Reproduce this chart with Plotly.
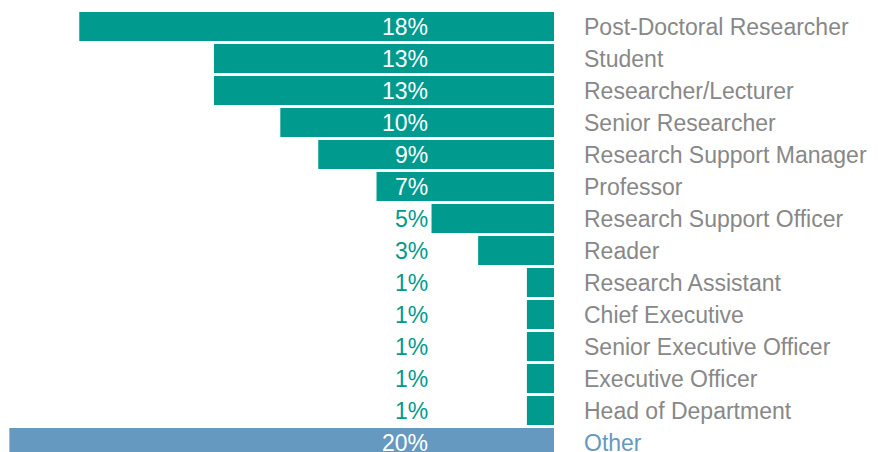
import plotly.graph_objects as go

# Roles and share of respondents (%)
roles = ["Post-Doctoral Researcher", "Student", "Researcher/Lecturer", "Senior Researcher",
         "Research Support Manager", "Professor", "Research Support Officer", "Reader",
         "Research Assistant", "Chief Executive", "Senior Executive Officer",
         "Executive Officer", "Head of Department", "Other"]
shares = [17.52, 12.55, 12.55, 10.1, 8.7, 6.55, 4.52, 2.8, 1.0, 1.0, 1.0, 1.0, 1.0, 20.1]
pct_labels = [f"{v:.0f}%" for v in shares]

teal = "#009B8E"
blue = "#6699C0"
grey = "#888888"
bar_colors = [blue if r == "Other" else teal for r in roles]

ypos = list(range(len(roles)))
label_x = 4.58  # right edge of percentage labels, in data units

fig = go.Figure()
fig.add_trace(go.Bar(
    x=shares, y=ypos, orientation="h",
    marker=dict(color=bar_colors, line=dict(width=0)),
    hoverinfo="skip", showlegend=False
))

font = "Liberation Sans, Arial, sans-serif"
for i, (r, v, t) in enumerate(zip(roles, shares, pct_labels)):
    inside = v > 6
    fig.add_annotation(x=label_x, y=i, xref="x", yref="y", text=t, showarrow=False,
                       xanchor="right", yanchor="middle",
                       font=dict(family=font, size=23,
                                 color="white" if inside else teal))
    fig.add_annotation(x=1, y=i, xref="paper", yref="y", text=r, showarrow=False,
                       xanchor="left", yanchor="middle", xshift=28,
                       font=dict(family=font, size=23,
                                 color=blue if r == "Other" else grey))

fig.update_layout(
    width=878, height=452,
    margin=dict(l=0, r=332, t=0, b=0),
    paper_bgcolor="white", plot_bgcolor="white",
    bargap=0.094,
)
fig.update_xaxes(range=[20.15, 0], visible=False, fixedrange=True)
fig.update_yaxes(range=[13.547, -0.578], visible=False, fixedrange=True)

fig.write_html("out.html")
